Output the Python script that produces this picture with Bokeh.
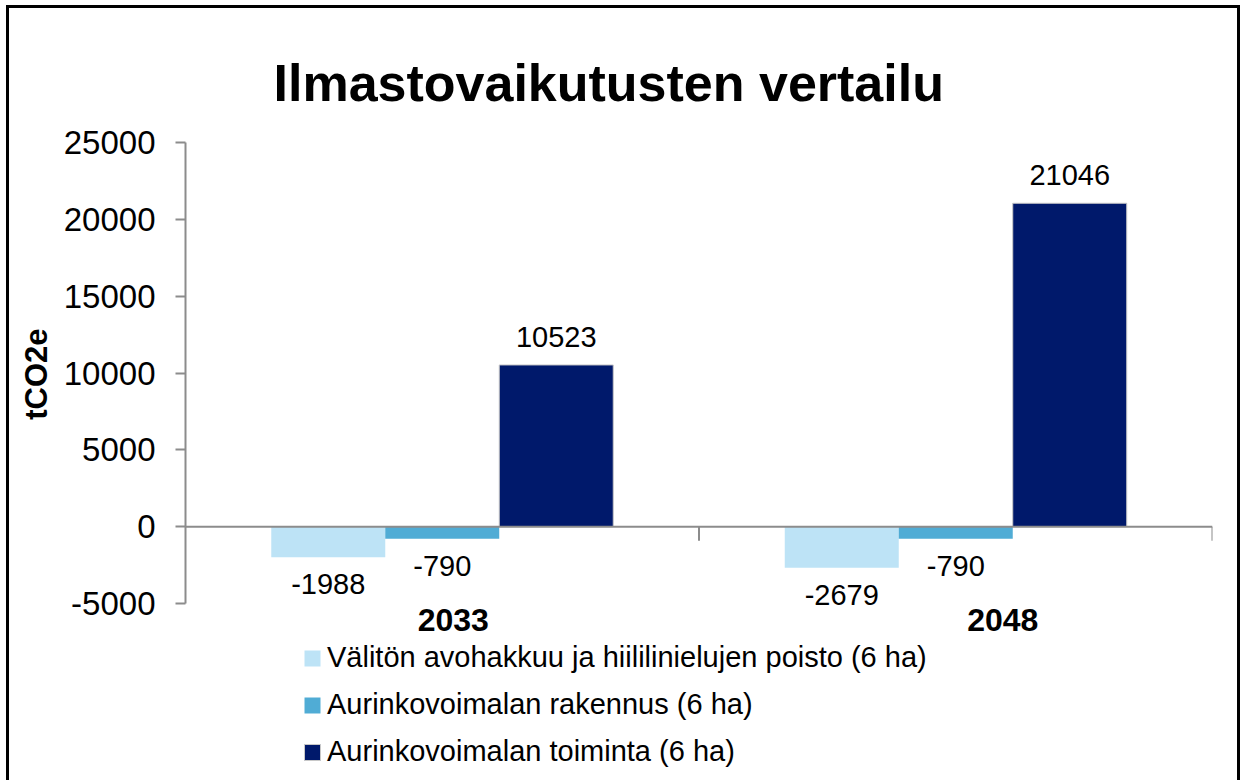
from bokeh.plotting import figure
from bokeh.models import (ColumnDataSource, FactorRange, Range1d, Span, Legend, LegendItem,
                          LabelSet, FixedTicker, InlineStyleSheet, Title)
from bokeh.core.properties import value
from bokeh.transform import dodge
from bokeh.embed import file_html
from bokeh.resources import INLINE

# ---------------- data ----------------
years = ["2033", "2048"]
series_names = [
    "Välitön avohakkuu ja hiililinielujen poisto (6 ha)",
    "Aurinkovoimalan rakennus (6 ha)",
    "Aurinkovoimalan toiminta (6 ha)",
]
clearcut = [-1988, -2679]
construction = [-790, -790]
operation = [10523, 21046]
y_ticks = [-5000, 0, 5000, 10000, 15000, 20000, 25000]

# ---------------- style ----------------
colors = ["#BDE3F6", "#50ACD5", "#00196B"]
FONT = "Liberation Sans"
AXIS_GRAY = "#8C8C8C"
BAR_W = 0.222
offsets = [-BAR_W, 0.0, BAR_W]
cat_nudge = [11, 47]

W, H = 1241, 780
TOP_PX, AXIS_BOTTOM_PX = 142, 603          # pixel rows of the top and bottom y ticks
axis_px = AXIS_BOTTOM_PX - TOP_PX
span = y_ticks[-1] - y_ticks[0]
y_lo = y_ticks[0] - span * (H - AXIS_BOTTOM_PX) / axis_px   # frame extends to the page bottom

p = figure(width=W, height=H,
           x_range=FactorRange(*years),
           y_range=Range1d(y_lo, y_ticks[-1]),
           output_backend="svg", toolbar_location=None,
           min_border_left=185, min_border_right=29,
           min_border_top=TOP_PX, min_border_bottom=0)

p.outline_line_color = None
p.xgrid.visible = False
p.ygrid.visible = False
p.xaxis.visible = False

# title
p.title.text = "Ilmastovaikutusten vertailu"
p.title.text_font = FONT
p.title.text_font_size = "52px"
p.title.text_font_style = "bold"
p.title.text_color = "black"
p.title.align = "left"
p.title.offset = 88
p.title.standoff = 61

# y axis
yax = p.yaxis[0]
yax.bounds = (y_ticks[0], y_ticks[-1])
yax.ticker = FixedTicker(ticks=y_ticks)
yax.major_label_overrides = {t: str(t) for t in y_ticks}
yax.axis_line_color = AXIS_GRAY
yax.axis_line_width = 2
yax.major_tick_line_color = AXIS_GRAY
yax.major_tick_line_width = 2
yax.major_tick_out = 10
yax.major_tick_in = 0
yax.minor_tick_line_color = None
yax.major_label_text_font = FONT
yax.major_label_text_font_size = "33px"
yax.major_label_text_color = "black"
yax.major_label_standoff = 20

# y axis title (placed beside the axis, centred on the tick span)
ytitle = Title(text="tCO2e", align="right", offset=186, standoff=14,
               text_font=FONT, text_font_size="31px", text_font_style="bold",
               text_color="black")
p.add_layout(ytitle, "left")

# zero line and category separators
p.add_layout(Span(location=0, dimension="width", line_color=AXIS_GRAY, line_width=2))
tick_len = span / axis_px * 14
bounds = [i + 1 for i in range(len(years))]
p.segment(x0=bounds, x1=bounds, y0=[0] * len(bounds), y1=[-tick_len] * len(bounds),
          line_color=AXIS_GRAY, line_width=2)

# bars
series = [clearcut, construction, operation]
renderers = []
for i, vals in enumerate(series):
    src = ColumnDataSource(dict(years=years, v=vals))
    r = p.vbar(x=dodge("years", offsets[i], range=p.x_range), top="v", bottom=0,
               width=BAR_W, source=src, fill_color=colors[i],
               line_color="#C8C8C8" if i == 2 else None, line_width=1)
    renderers.append(r)
    # data labels
    for sign in ("neg", "pos"):
        idx = [k for k, v in enumerate(vals) if (v < 0) == (sign == "neg")]
        if not idx:
            continue
        lsrc = ColumnDataSource(dict(years=[years[k] for k in idx],
                                     v=[vals[k] for k in idx],
                                     t=[str(vals[k]) for k in idx]))
        ls = LabelSet(x=dodge("years", offsets[i], range=p.x_range), y="v", text="t",
                      source=lsrc, text_align="center",
                      text_baseline="top" if sign == "neg" else "alphabetic",
                      y_offset=-17 if sign == "neg" else 18,
                      text_font=value(FONT), text_font_size=value("29px"),
                      text_color="black")
        p.add_layout(ls)

# category labels
csrc = ColumnDataSource(dict(years=years, y=[y_ticks[0]] * len(years), nudge=cat_nudge))
p.add_layout(LabelSet(x="years", y="y", text="years", x_offset="nudge", y_offset=-5,
                      source=csrc, text_align="center", text_baseline="top",
                      text_font=value(FONT), text_font_size=value("32px"),
                      text_font_style=value("bold"), text_color="black"))

# legend
legend = Legend(items=[LegendItem(label=n, renderers=[r]) for n, r in zip(series_names, renderers)],
                location=(117, 12), orientation="vertical",
                glyph_width=20, glyph_height=20, label_standoff=5, spacing=14,
                padding=0, margin=0, border_line_color=None, background_fill_alpha=0,
                label_text_font=FONT, label_text_font_size="29px", label_text_color="black",
                label_height=26)
p.add_layout(legend)

# outer border of the chart (drawn by CSS around the plot element)
p.stylesheets = [InlineStyleSheet(css=(
    ":host{position:relative;}"
    ":host::after{content:'';position:absolute;left:6px;top:5px;width:1234px;height:775px;"
    "box-sizing:border-box;border:3px solid black;border-bottom:none;pointer-events:none;z-index:5;}"
))]

open("out.html", "w").write(file_html(p, INLINE))
